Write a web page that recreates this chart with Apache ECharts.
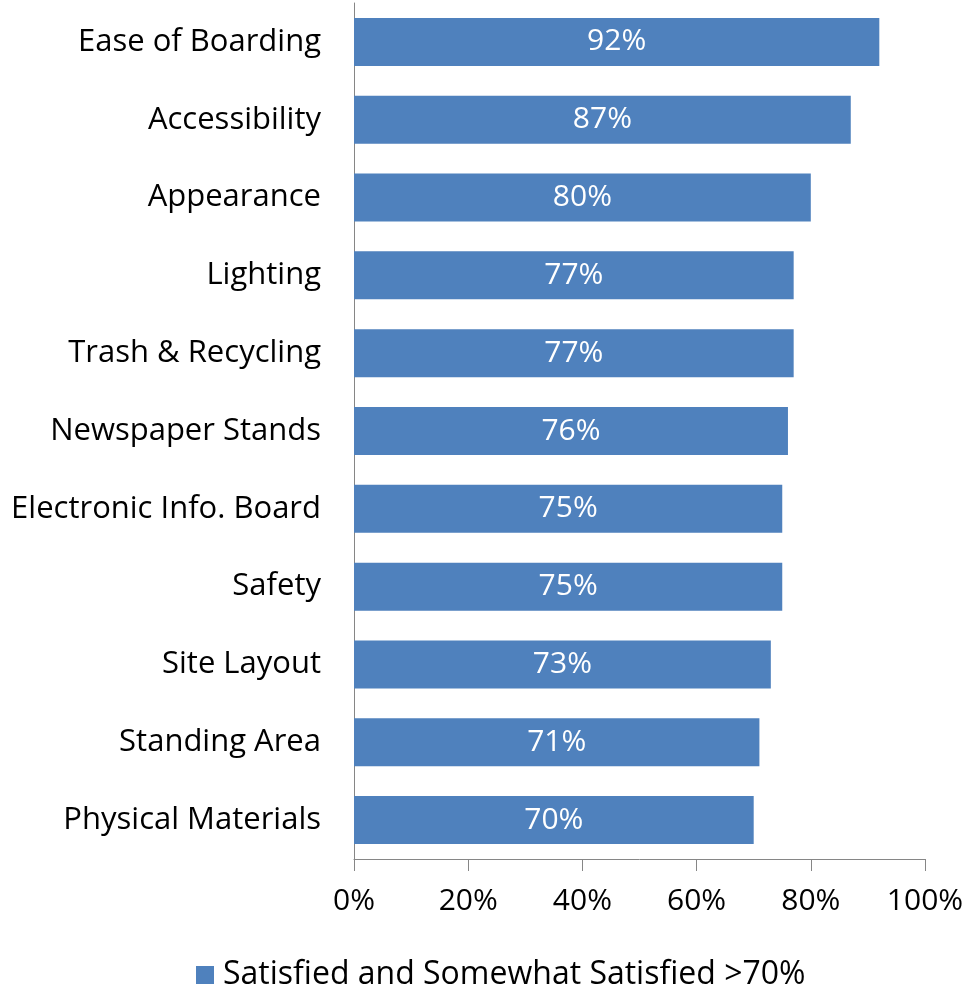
<!DOCTYPE html>
<html>
<head>
<meta charset="utf-8">
<script src="https://cdn.jsdelivr.net/npm/echarts@6/dist/echarts.min.js"></script>
<style>
  html, body { margin: 0; padding: 0; background: #fff; }
  #chart { width: 967px; height: 996px; }
</style>
</head>
<body>
<div id="chart"></div>
<script>
// Station amenity satisfaction, listed top to bottom
const categories = [
  'Ease of Boarding', 'Accessibility', 'Appearance', 'Lighting',
  'Trash & Recycling', 'Newspaper Stands', 'Electronic Info. Board',
  'Safety', 'Site Layout', 'Standing Area', 'Physical Materials'
];
const satisfied = [92, 87, 80, 77, 77, 76, 75, 75, 73, 71, 70];
const xTicks = [0, 20, 40, 60, 80, 100];
const seriesName = 'Satisfied and Somewhat Satisfied >70%';

const FONT = '"Open Sans", "Noto Sans", sans-serif';
const chart = echarts.init(document.getElementById('chart'));

chart.setOption({
  animation: false,
  backgroundColor: '#ffffff',
  textStyle: { fontFamily: FONT },
  grid: { left: 354, right: 42, top: 3, bottom: 137, containLabel: false },
  legend: {
    top: 954,
    left: 191,
    itemWidth: 18,
    itemHeight: 18,
    itemGap: 10,
    icon: 'rect',
    textStyle: { fontSize: 32, color: '#000', fontFamily: FONT, padding: [0, 0, 0, 4] },
    data: [seriesName]
  },
  xAxis: {
    type: 'value',
    min: xTicks[0],
    max: xTicks[xTicks.length - 1],
    interval: xTicks[1] - xTicks[0],
    axisLine: { show: true, lineStyle: { color: '#868686', width: 1 } },
    axisTick: { show: true, length: 12, lineStyle: { color: '#868686' } },
    splitLine: { show: false },
    axisLabel: {
      formatter: v => v + '%',
      fontSize: 30,
      color: '#000',
      margin: 27
    }
  },
  yAxis: {
    type: 'category',
    data: categories,
    inverse: true,
    axisLine: { show: true, lineStyle: { color: '#868686', width: 1 } },
    axisTick: { show: false },
    axisLabel: { fontSize: 31, color: '#000', margin: 33 }
  },
  series: [{
    name: seriesName,
    type: 'bar',
    data: satisfied,
    barWidth: 48,
    itemStyle: { color: '#4F81BD' },
    label: {
      show: true,
      position: 'inside',
      formatter: p => p.value + '%',
      color: '#fff',
      fontSize: 30
    }
  }]
});
</script>
</body>
</html>
